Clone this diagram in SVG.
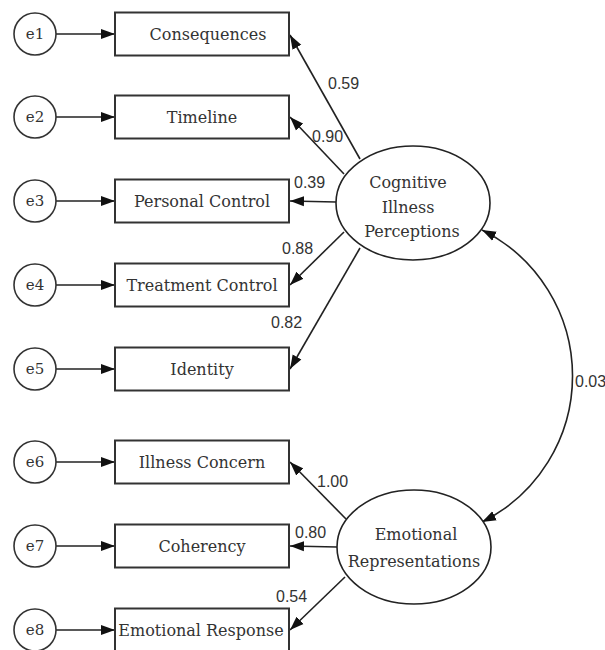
<svg xmlns="http://www.w3.org/2000/svg" width="605" height="650" viewBox="0 0 605 650">
<style>
.box{fill:#fff;stroke:#333;stroke-width:2}
.err{fill:#fff;stroke:#333;stroke-width:1.6}
.lat{fill:#fff;stroke:#222;stroke-width:1.6}
.t{font-family:"DejaVu Serif","Liberation Serif",serif;font-size:16px;fill:#333;text-anchor:middle}
.te{font-family:"DejaVu Serif","Liberation Serif",serif;font-size:15px;fill:#333;text-anchor:middle}
.n{font-family:"Liberation Sans",Arial,sans-serif;font-size:16px;fill:#333}
.c{fill:none;stroke:#222;stroke-width:1.6}
</style>
<defs>
<marker id="ah" markerUnits="userSpaceOnUse" markerWidth="15" markerHeight="11" refX="14" refY="5" orient="auto-start-reverse" viewBox="0 0 15 10">
<path d="M0,0 L14,5 L0,10 z" fill="#111"/>
</marker>
</defs>
<rect width="605" height="650" fill="#fff"/>
<g id="connectors">
<path class="c" d="M56,34 L115,34" marker-end="url(#ah)"/>
<path class="c" d="M56,117 L115,117" marker-end="url(#ah)"/>
<path class="c" d="M56,201 L115,201" marker-end="url(#ah)"/>
<path class="c" d="M56,285 L115,285" marker-end="url(#ah)"/>
<path class="c" d="M56,369 L115,369" marker-end="url(#ah)"/>
<path class="c" d="M56,462 L115,462" marker-end="url(#ah)"/>
<path class="c" d="M56,546 L115,546" marker-end="url(#ah)"/>
<path class="c" d="M56,630 L115,630" marker-end="url(#ah)"/>
<path class="c" d="M360,159 L290,35" marker-end="url(#ah)"/>
<path class="c" d="M344,174 L290,117" marker-end="url(#ah)"/>
<path class="c" d="M336,202 L290,201" marker-end="url(#ah)"/>
<path class="c" d="M344,232 L290,285" marker-end="url(#ah)"/>
<path class="c" d="M360,248 L290,369" marker-end="url(#ah)"/>
<path class="c" d="M346,519 L290,462" marker-end="url(#ah)"/>
<path class="c" d="M337,547 L290,546" marker-end="url(#ah)"/>
<path class="c" d="M345,577 L290,630" marker-end="url(#ah)"/>
<path class="c" d="M482,230 A163,163 0 0 1 482,522" marker-start="url(#ah)" marker-end="url(#ah)"/>
<text class="n" x="328" y="89">0.59</text>
<text class="n" x="312" y="142">0.90</text>
<text class="n" x="294" y="188">0.39</text>
<text class="n" x="282" y="254">0.88</text>
<text class="n" x="271" y="328">0.82</text>
<text class="n" x="317" y="487">1.00</text>
<text class="n" x="295" y="538">0.80</text>
<text class="n" x="276" y="602">0.54</text>
<text class="n" x="575" y="387">0.03</text>
</g>
<g id="e1"><circle class="err" cx="35" cy="34" r="21"/><text class="te" x="35" y="39">e1</text></g>
<g id="e2"><circle class="err" cx="35" cy="117" r="21"/><text class="te" x="35" y="122">e2</text></g>
<g id="e3"><circle class="err" cx="35" cy="201" r="21"/><text class="te" x="35" y="206">e3</text></g>
<g id="e4"><circle class="err" cx="35" cy="285" r="21"/><text class="te" x="35" y="290">e4</text></g>
<g id="e5"><circle class="err" cx="35" cy="369" r="21"/><text class="te" x="35" y="374">e5</text></g>
<g id="e6"><circle class="err" cx="35" cy="462" r="21"/><text class="te" x="35" y="467">e6</text></g>
<g id="e7"><circle class="err" cx="35" cy="546" r="21"/><text class="te" x="35" y="551">e7</text></g>
<g id="e8"><circle class="err" cx="35" cy="630" r="21"/><text class="te" x="35" y="635">e8</text></g>
<g id="consequences"><rect class="box" x="115" y="12.5" width="174" height="43"/><text class="t" x="208" y="40">Consequences</text></g>
<g id="timeline"><rect class="box" x="115" y="95.5" width="174" height="43"/><text class="t" x="202" y="123">Timeline</text></g>
<g id="personal-control"><rect class="box" x="115" y="179.5" width="174" height="43"/><text class="t" x="202" y="207">Personal Control</text></g>
<g id="treatment-control"><rect class="box" x="115" y="263.5" width="174" height="43"/><text class="t" x="202" y="291">Treatment Control</text></g>
<g id="identity"><rect class="box" x="115" y="347.5" width="174" height="43"/><text class="t" x="202" y="375">Identity</text></g>
<g id="illness-concern"><rect class="box" x="115" y="440.5" width="174" height="43"/><text class="t" x="202" y="468">Illness Concern</text></g>
<g id="coherency"><rect class="box" x="115" y="524.5" width="174" height="43"/><text class="t" x="202" y="552">Coherency</text></g>
<g id="emotional-response"><rect class="box" x="115" y="608.5" width="174" height="43"/><text class="t" x="201" y="636">Emotional Response</text></g>
<g id="cognitive-illness-perceptions"><ellipse class="lat" cx="413" cy="203" rx="77" ry="57"/>
<text class="t" x="408" y="188">Cognitive</text><text class="t" x="408" y="213">Illness</text><text class="t" x="412" y="237">Perceptions</text></g>
<g id="emotional-representations"><ellipse class="lat" cx="414" cy="547" rx="77" ry="57"/>
<text class="t" x="416" y="540">Emotional</text><text class="t" x="414" y="567">Representations</text></g>
</svg>
